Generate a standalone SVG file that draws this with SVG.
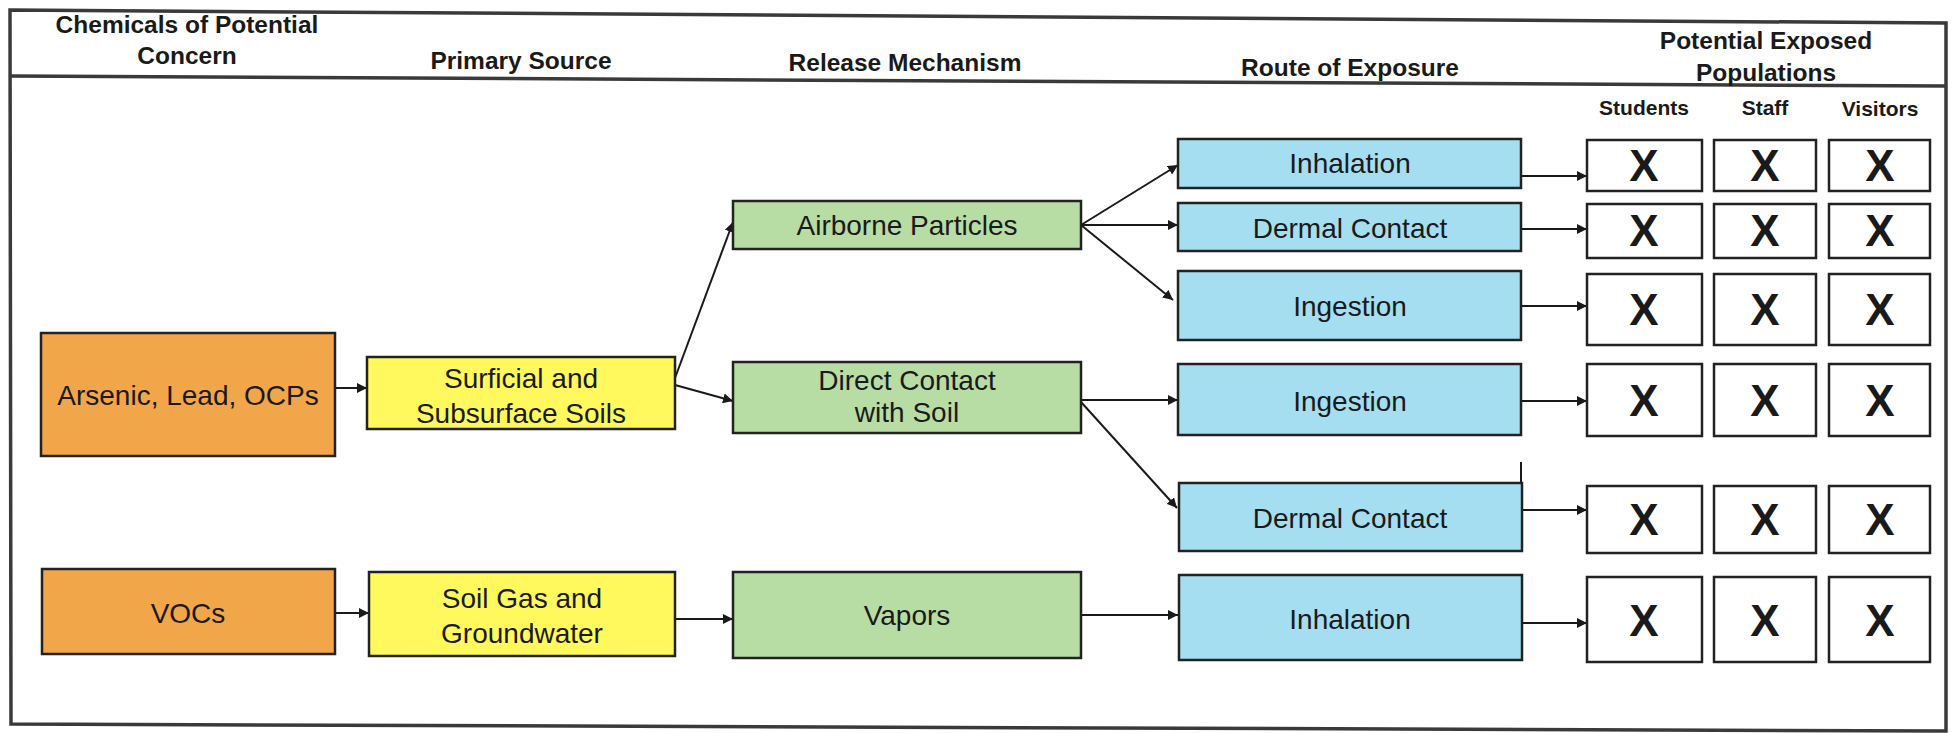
<svg xmlns="http://www.w3.org/2000/svg" width="1953" height="733" viewBox="0 0 1953 733">
<defs>
<marker id="ah" viewBox="0 0 10 10" refX="10" refY="5" markerWidth="10" markerHeight="10" markerUnits="userSpaceOnUse" orient="auto">
<path d="M0,0 L10,5 L0,10 z" fill="#1a1a1a"/>
</marker>
<style>
.frame{fill:none;stroke:#3a3a3a;stroke-width:3.5}
.hd{font-family:"Liberation Sans",Arial,sans-serif;font-weight:bold;font-size:24.5px;fill:#1a1a1a;text-anchor:middle}
.sub{font-family:"Liberation Sans",Arial,sans-serif;font-weight:bold;font-size:21px;fill:#1a1a1a;text-anchor:middle}
.t{font-family:"Liberation Sans",Arial,sans-serif;font-size:28px;fill:#1a1a1a;text-anchor:middle}
.x{font-family:"Liberation Sans",Arial,sans-serif;font-weight:bold;font-size:44px;fill:#1a1a1a;text-anchor:middle}
.box{stroke:#222;stroke-width:2.5}
.org{fill:#F2A64A}
.yel{fill:#FFF95E}
.grn{fill:#B8DDA4}
.blu{fill:#A5DEF0}
.wht{fill:#fff}
.c{stroke:#1a1a1a;stroke-width:2;fill:none}
.ca{stroke:#1a1a1a;stroke-width:2;fill:none;marker-end:url(#ah)}
</style>
</defs>
<rect width="1953" height="733" fill="#fff"/>
<g id="frame">
<path class="frame" d="M10,10 L1946,23 L1946,731 L11,724 Z"/>
<path class="frame" d="M10,76 L1946,86"/>
</g>
<g id="headers">
<text class="hd" x="187" y="33">Chemicals of Potential</text>
<text class="hd" x="187" y="64">Concern</text>
<text class="hd" x="521" y="69">Primary Source</text>
<text class="hd" x="905" y="71">Release Mechanism</text>
<text class="hd" x="1350" y="76">Route of Exposure</text>
<text class="hd" x="1766" y="49">Potential Exposed</text>
<text class="hd" x="1766" y="81">Populations</text>
<text class="sub" x="1644" y="115">Students</text>
<text class="sub" x="1765" y="115">Staff</text>
<text class="sub" x="1880" y="116">Visitors</text>
</g>
<g id="connectors">
<line class="ca" x1="335" y1="388" x2="367" y2="388"/>
<line class="ca" x1="675" y1="378" x2="733" y2="222"/>
<line class="ca" x1="675" y1="385" x2="733" y2="401"/>
<line class="ca" x1="1081" y1="225" x2="1178" y2="165"/>
<line class="ca" x1="1081" y1="225" x2="1178" y2="225"/>
<line class="ca" x1="1081" y1="225" x2="1173" y2="300"/>
<line class="ca" x1="1081" y1="400" x2="1178" y2="400"/>
<line class="ca" x1="1081" y1="402" x2="1177" y2="508"/>
<line class="ca" x1="335" y1="613" x2="369" y2="613"/>
<line class="ca" x1="675" y1="619" x2="733" y2="619"/>
<line class="ca" x1="1081" y1="615" x2="1178" y2="615"/>
<line class="ca" x1="1521" y1="176" x2="1587" y2="176"/>
<line class="ca" x1="1521" y1="229" x2="1587" y2="229"/>
<line class="ca" x1="1521" y1="306" x2="1587" y2="306"/>
<line class="ca" x1="1521" y1="401" x2="1587" y2="401"/>
<line class="ca" x1="1522" y1="510" x2="1587" y2="510"/>
<line class="ca" x1="1522" y1="623" x2="1587" y2="623"/>
<line class="c" x1="1521" y1="462" x2="1521" y2="483"/>
</g>
<g id="n-arsenic"><rect class="box org" x="41" y="333" width="294" height="123"/><text class="t" x="188" y="405">Arsenic, Lead, OCPs</text></g>
<g id="n-vocs"><rect class="box org" x="42" y="569" width="293" height="85"/><text class="t" x="188" y="623">VOCs</text></g>
<g id="n-soils"><rect class="box yel" x="367" y="357" width="308" height="72"/><text class="t" x="521" y="388">Surficial and</text><text class="t" x="521" y="423">Subsurface Soils</text></g>
<g id="n-soilgas"><rect class="box yel" x="369" y="572" width="306" height="84"/><text class="t" x="522" y="608">Soil Gas and</text><text class="t" x="522" y="643">Groundwater</text></g>
<g id="n-airborne"><rect class="box grn" x="733" y="201" width="348" height="48"/><text class="t" x="907" y="235">Airborne Particles</text></g>
<g id="n-direct"><rect class="box grn" x="733" y="362" width="348" height="71"/><text class="t" x="907" y="390">Direct Contact</text><text class="t" x="907" y="422">with Soil</text></g>
<g id="n-vapors"><rect class="box grn" x="733" y="572" width="348" height="86"/><text class="t" x="907" y="625">Vapors</text></g>
<g id="n-inh1"><rect class="box blu" x="1178" y="139" width="343" height="49"/><text class="t" x="1350" y="173">Inhalation</text></g>
<g id="n-der1"><rect class="box blu" x="1178" y="203" width="343" height="48"/><text class="t" x="1350" y="238">Dermal Contact</text></g>
<g id="n-ing1"><rect class="box blu" x="1178" y="271" width="343" height="69"/><text class="t" x="1350" y="316">Ingestion</text></g>
<g id="n-ing2"><rect class="box blu" x="1178" y="364" width="343" height="71"/><text class="t" x="1350" y="411">Ingestion</text></g>
<g id="n-der2"><rect class="box blu" x="1179" y="483" width="343" height="68"/><text class="t" x="1350" y="528">Dermal Contact</text></g>
<g id="n-inh2"><rect class="box blu" x="1179" y="575" width="343" height="85"/><text class="t" x="1350" y="629">Inhalation</text></g>
<g id="x-r1"><rect class="box wht" x="1587" y="140" width="115" height="51"/><rect class="box wht" x="1714" y="140" width="102" height="51"/><rect class="box wht" x="1829" y="140" width="101" height="51"/><text class="x" x="1644" y="181">X</text><text class="x" x="1765" y="181">X</text><text class="x" x="1880" y="181">X</text></g>
<g id="x-r2"><rect class="box wht" x="1587" y="204" width="115" height="54"/><rect class="box wht" x="1714" y="204" width="102" height="54"/><rect class="box wht" x="1829" y="204" width="101" height="54"/><text class="x" x="1644" y="246">X</text><text class="x" x="1765" y="246">X</text><text class="x" x="1880" y="246">X</text></g>
<g id="x-r3"><rect class="box wht" x="1587" y="274" width="115" height="71"/><rect class="box wht" x="1714" y="274" width="102" height="71"/><rect class="box wht" x="1829" y="274" width="101" height="71"/><text class="x" x="1644" y="325">X</text><text class="x" x="1765" y="325">X</text><text class="x" x="1880" y="325">X</text></g>
<g id="x-r4"><rect class="box wht" x="1587" y="364" width="115" height="72"/><rect class="box wht" x="1714" y="364" width="102" height="72"/><rect class="box wht" x="1829" y="364" width="101" height="72"/><text class="x" x="1644" y="416">X</text><text class="x" x="1765" y="416">X</text><text class="x" x="1880" y="416">X</text></g>
<g id="x-r5"><rect class="box wht" x="1587" y="486" width="115" height="67"/><rect class="box wht" x="1714" y="486" width="102" height="67"/><rect class="box wht" x="1829" y="486" width="101" height="67"/><text class="x" x="1644" y="535">X</text><text class="x" x="1765" y="535">X</text><text class="x" x="1880" y="535">X</text></g>
<g id="x-r6"><rect class="box wht" x="1587" y="577" width="115" height="85"/><rect class="box wht" x="1714" y="577" width="102" height="85"/><rect class="box wht" x="1829" y="577" width="101" height="85"/><text class="x" x="1644" y="636">X</text><text class="x" x="1765" y="636">X</text><text class="x" x="1880" y="636">X</text></g>
</svg>
